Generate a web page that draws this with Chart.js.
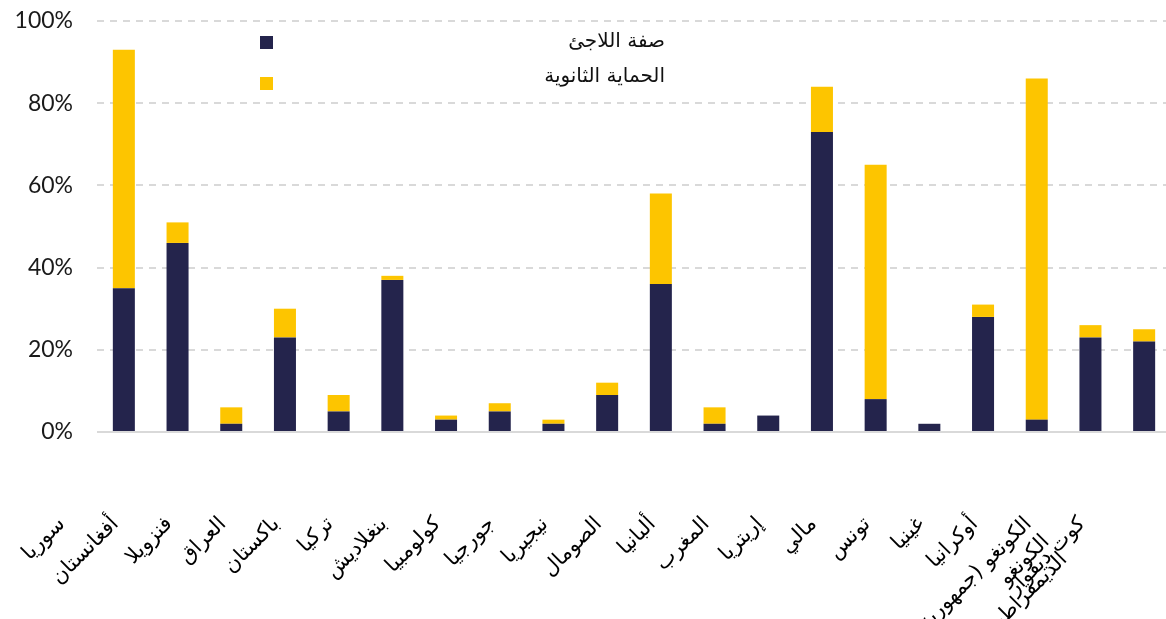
<!DOCTYPE html>
<html>
<head>
<meta charset="utf-8">
<script src="https://cdn.jsdelivr.net/npm/chart.js@4/dist/chart.umd.min.js"></script>
<style>
  html, body { margin: 0; padding: 0; background: #fff; overflow: hidden; }
  #wrap { width: 1171px; height: 619px; position: relative; }
</style>
</head>
<body>
<div id="wrap"><canvas id="bar-chart"></canvas></div>
<script>
const countries = [
  "سوريا", "أفغانستان", "فنزويلا", "العراق", "باكستان", "تركيا", "بنغلاديش",
  "كولومبيا", "جورجيا", "نيجيريا", "الصومال", "ألبانيا", "المغرب", "إريتريا",
  "مالي", "تونس", "غينيا", "أوكرانيا",
  ["الكونغو (جمهورية", "الكونغو", "الديمقراطية)\u200F"],
  "كوت ديفوار"
];
const refugeeStatus = [35, 46, 2, 23, 5, 37, 3, 5, 2, 9, 36, 2, 4, 73, 8, 2, 28, 3, 23, 22];
const subsidiaryProtection = [58, 5, 4, 7, 4, 1, 1, 2, 1, 3, 22, 4, 0, 11, 57, 0, 3, 83, 3, 3];
const yTicks = [0, 20, 40, 60, 80, 100];
const seriesNames = ["صفة اللاجئ", "الحماية الثانوية"];

// legend drawn top-left, box far from the right-aligned text
const sideLegend = {
  id: "sideLegend",
  afterDraw(chart) {
    const ctx = chart.ctx;
    ctx.save();
    ctx.font = "20px 'DejaVu Sans', sans-serif";
    ctx.textAlign = "right";
    ctx.textBaseline = "middle";
    chart.data.datasets.forEach((ds, i) => {
      ctx.fillStyle = ds.backgroundColor;
      ctx.fillRect(260, 36 + i * 41, 13, 13);
      ctx.fillStyle = "#111";
      ctx.fillText(ds.label, 665, 42 + i * 35);
    });
    ctx.restore();
  }
};

const ctx = document.getElementById("bar-chart").getContext("2d");
new Chart(ctx, {
  type: "bar",
  data: {
    labels: countries,
    datasets: [
      {
        label: seriesNames[0],
        data: refugeeStatus,
        backgroundColor: "#24244c",
        barPercentage: 0.41,
        categoryPercentage: 1,
      },
      {
        label: seriesNames[1],
        data: subsidiaryProtection,
        backgroundColor: "#fdc500",
        barPercentage: 0.41,
        categoryPercentage: 1,
      },
    ],
  },
  options: {
    responsive: true,
    maintainAspectRatio: false,
    animation: false,
    layout: { padding: { top: 21, right: 0, left: 0, bottom: 0 } },
    plugins: {
      legend: { display: false },
      tooltip: { enabled: false },
    },
    scales: {
      x: {
        stacked: true,
        grid: { display: false },
        border: { display: false },
        afterFit: (axis) => {
          axis.height = 187;
          axis.paddingLeft = 0;
          axis.paddingRight = 0;
        },
        ticks: {
          autoSkip: false,
          maxRotation: 45,
          minRotation: 45,
          labelOffset: -62,
          padding: 72,
          color: "#000",
          font: { family: "'DejaVu Sans', sans-serif", size: 21 },
        },
      },
      y: {
        stacked: true,
        min: 0,
        max: 100,
        afterBuildTicks: (axis) => {
          axis.ticks = yTicks.map((v) => ({ value: v }));
        },
        afterFit: (axis) => {
          axis.width = 97;
          axis.paddingTop = 0;
          axis.paddingBottom = 0;
        },
        grid: {
          color: "#d9d9d9",
          lineWidth: 2,
          drawTicks: false,
        },
        border: {
          display: false,
          dash: (c) => (c.tick && c.tick.value === 0 ? [] : [7, 6]),
        },
        ticks: {
          padding: 24,
          color: "#1a1a1a",
          font: { family: "Lato, sans-serif", size: 23 },
          callback: (v) => v + "%",
        },
      },
    },
  },
  plugins: [sideLegend],
});
</script>
</body>
</html>
